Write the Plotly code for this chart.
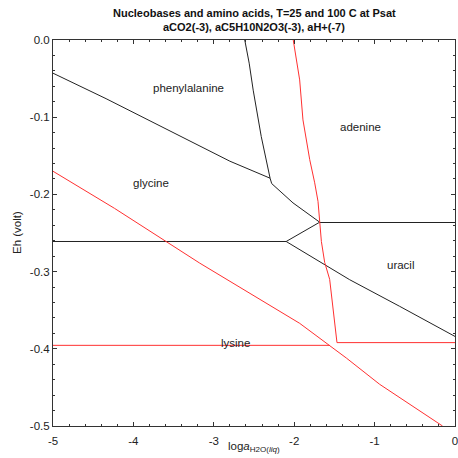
import plotly.graph_objects as go

# ---- data ----
x_tickvals = [-5, -4, -3, -2, -1, 0]
x_ticktext = ["-5", "-4", "-3", "-2", "-1", "0"]
y_tickvals = [0.0, -0.1, -0.2, -0.3, -0.4, -0.5]
y_ticktext = ["0.0", "-0.1", "-0.2", "-0.3", "-0.4", "-0.5"]

# 25 C boundaries (black)
phe_gly_25_x = [-5, -4.34, -2.80, -2.30]
phe_gly_25_y = [-0.043, -0.076, -0.157, -0.179]
phe_ade_25_x = [-2.615, -2.56, -2.51, -2.45, -2.41, -2.30]
phe_ade_25_y = [0.0, -0.030, -0.065, -0.100, -0.125, -0.179]
gly_ade_25_x = [-2.30, -2.28, -2.015, -1.683]
gly_ade_25_y = [-0.179, -0.186, -0.211, -0.236]
ade_ura_25_x = [-1.683, 0]
ade_ura_25_y = [-0.2364, -0.2364]
gly_ura_25_x = [-1.683, -2.10]
gly_ura_25_y = [-0.236, -0.261]
gly_lys_25_x = [-5, -2.10]
gly_lys_25_y = [-0.261, -0.261]
ura_lys_25_x = [-2.10, -1.31, -0.688, 0]
ura_lys_25_y = [-0.261, -0.3105, -0.345, -0.384]

# 100 C boundaries (red)
phe_ade_100_x = [-2.012, -1.973, -1.932, -1.891, -1.848, -1.807, -1.745, -1.704,
                 -1.662, -1.621, -1.559, -1.497, -1.468]
phe_ade_100_y = [0.0, -0.0237, -0.0517, -0.1035, -0.129, -0.155, -0.185, -0.209,
                 -0.261, -0.288, -0.310, -0.366, -0.392]
ade_lys_100_x = [-1.468, 0]
ade_lys_100_y = [-0.392, -0.392]
gly_lys_100_x = [-5, -1.558]
gly_lys_100_y = [-0.3955, -0.3955]
diag_100_x = [-5, -4.236, -3.175, -1.932, -1.351, -0.937, -0.155]
diag_100_y = [-0.170, -0.218, -0.289, -0.367, -0.412, -0.446, -0.500]

labels = ["phenylalanine", "adenine", "glycine", "uracil", "lysine"]
label_x = [-3.31, -1.17, -3.78, -0.675, -2.73]
label_y = [-0.062, -0.1125, -0.185, -0.291, -0.392]

FONT = "Liberation Sans, Arial, Helvetica, sans-serif"

fig = go.Figure()

black_lines = [
    (phe_gly_25_x, phe_gly_25_y), (phe_ade_25_x, phe_ade_25_y),
    (gly_ade_25_x, gly_ade_25_y), (ade_ura_25_x, ade_ura_25_y),
    (gly_ura_25_x, gly_ura_25_y), (gly_lys_25_x, gly_lys_25_y),
    (ura_lys_25_x, ura_lys_25_y),
]
red_lines = [
    (phe_ade_100_x, phe_ade_100_y), (ade_lys_100_x, ade_lys_100_y),
    (gly_lys_100_x, gly_lys_100_y), (diag_100_x, diag_100_y),
]
for xs, ys in black_lines:
    fig.add_trace(go.Scatter(x=xs, y=ys, mode="lines", showlegend=False,
                             line=dict(color="#222222", width=1), hoverinfo="skip"))
for xs, ys in red_lines:
    fig.add_trace(go.Scatter(x=xs, y=ys, mode="lines", showlegend=False,
                             line=dict(color="#ff3030", width=1), hoverinfo="skip"))

for t, lx, ly in zip(labels, label_x, label_y):
    fig.add_annotation(x=lx, y=ly, text=t, showarrow=False, xref="x", yref="y",
                       font=dict(family=FONT, size=11.5, color="#222222"))

fig.add_annotation(xref="paper", yref="paper", x=0.5, y=1 + 27 / 386,
                   text="<b>Nucleobases and amino acids, T=25 and 100 C at Psat</b>",
                   showarrow=False, xanchor="center", yanchor="middle",
                   font=dict(family=FONT, size=11, color="#111111"))
fig.add_annotation(xref="paper", yref="paper", x=0.5, y=1 + 13 / 386,
                   text="<b>aCO2(-3), aC5H10N2O3(-3), aH+(-7)</b>",
                   showarrow=False, xanchor="center", yanchor="middle",
                   font=dict(family=FONT, size=11, color="#111111"))
fig.add_annotation(xref="paper", yref="paper", x=0.5, y=-(447 - 426) / 386,
                   text="log<i>a</i><sub>H2O(<i>liq</i>)</sub>",
                   showarrow=False, xanchor="center", yanchor="middle",
                   font=dict(family=FONT, size=11.5, color="#222222"))
fig.add_annotation(xref="paper", yref="paper", x=-(53 - 17) / 402, y=0.5,
                   text="Eh (volt)", textangle=-90,
                   showarrow=False, xanchor="center", yanchor="middle",
                   font=dict(family=FONT, size=11.5, color="#222222"))

axis_common = dict(
    showgrid=False, zeroline=False, showline=True, linecolor="#333333",
    linewidth=1, mirror="allticks", ticks="inside", ticklen=4,
    tickcolor="#333333", tickwidth=1, automargin=False,
    ticklabeloverflow="allow",
    tickfont=dict(family=FONT, size=11.5, color="#222222"),
)
fig.update_xaxes(range=[-5, 0], tickmode="array", tickvals=x_tickvals,
                 ticktext=x_ticktext, ticklabelstandoff=4,
                 minor=dict(dtick=0.2, ticks="inside", ticklen=2,
                            tickcolor="#333333", showgrid=False),
                 **axis_common)
fig.update_yaxes(range=[-0.5, 0], tickmode="array", tickvals=y_tickvals,
                 ticktext=y_ticktext, ticklabelstandoff=0,
                 minor=dict(dtick=0.02, ticks="inside", ticklen=2,
                            tickcolor="#333333", showgrid=False),
                 **axis_common)

fig.update_layout(
    width=458, height=458,
    margin=dict(l=53, r=3, t=40, b=32, pad=0),
    paper_bgcolor="white", plot_bgcolor="white",
    font=dict(family=FONT),
)

fig.write_html("out.html", config={"displayModeBar": False},
               post_script="document.body.style.margin='0';document.body.style.padding='0';")
